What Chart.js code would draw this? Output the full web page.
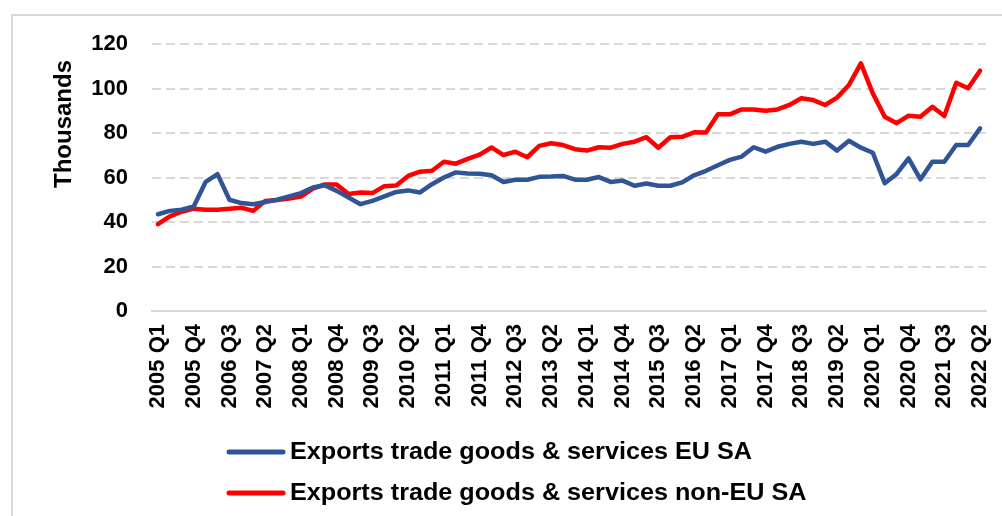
<!DOCTYPE html>
<html>
<head>
<meta charset="utf-8">
<script src="https://cdn.jsdelivr.net/npm/chart.js@4"></script>
<style>
  html, body { margin: 0; padding: 0; background: #fff; }
  #wrap { position: relative; width: 1002px; height: 516px; }
</style>
</head>
<body>
<div id="wrap"><canvas id="exportsChart" width="1002" height="516"></canvas></div>
<script>
// quarterly categories 2005 Q1 .. 2022 Q2
const quarters = [];
for (let y = 2005; y <= 2022; y++) {
    for (let q = 1; q <= 4; q++) {
        if (y === 2022 && q > 2) break;
        quarters.push(y + ' Q' + q);
    }
}

const yTicks = [0, 20, 40, 60, 80, 100, 120];

const euLabel = 'Exports trade goods & services EU SA';
const nonEuLabel = 'Exports trade goods & services non-EU SA';

const euValues = [
    43.5, 45, 45.5, 47, 58, 61.5, 50, 48.5, 48, 49,
    50, 51.5, 53, 55.5, 56.5, 54, 51, 48, 49.5, 51.5,
    53.5, 54.2, 53.3, 57, 60, 62.3, 61.8, 61.7, 61, 58,
    59, 59, 60.3, 60.4, 60.7, 59, 59, 60.2, 58, 58.6,
    56.3, 57.3, 56.3, 56.3, 57.8, 61, 63, 65.5, 67.9, 69.4,
    73.6, 71.6, 73.8, 75.1, 76.1, 75.1, 76.1, 72.1, 76.5, 73.4,
    71.1, 57.4, 61.6, 68.6, 59.2, 67.1, 67.1, 74.6, 74.6, 82.1
];

const nonEuValues = [
    39, 42.5, 44.6, 46, 45.5, 45.5, 46, 46.4, 45, 49.4,
    49.9, 50.6, 51.4, 55, 56.9, 56.8, 52.6, 53.3, 53, 56.1,
    56.4, 60.7, 62.6, 63, 67.1, 66.2, 68.4, 70.3, 73.5, 70.1,
    71.6, 69.1, 74.2, 75.4, 74.6, 72.7, 72.1, 73.6, 73.4, 75.1,
    76.1, 78.1, 73.4, 78.1, 78.3, 80.3, 80.2, 88.4, 88.4, 90.6,
    90.6, 90, 90.6, 92.6, 95.6, 94.8, 92.6, 95.9, 101.6, 111.3,
    97.8, 87.3, 84.4, 87.8, 87.3, 91.8, 87.6, 102.6, 100.1, 108
];

const FONT = '"Liberation Sans", Arial, sans-serif';
const BLUE = '#2f5597';
const RED = '#ff0000';
const GRID = '#d9d9d9';

// frame, axis title and the two-row legend are drawn by hand
const decorations = {
    id: 'decorations',
    beforeDraw(chart) {
        const ctx = chart.ctx;
        ctx.save();
        ctx.strokeStyle = GRID;
        ctx.lineWidth = 2;
        ctx.strokeRect(12, 15, 1200, 800);
        ctx.restore();
    },
    afterDraw(chart) {
        const ctx = chart.ctx;
        ctx.save();
        ctx.fillStyle = '#000';
        ctx.font = 'bold 24px ' + FONT;
        ctx.textAlign = 'center';
        ctx.textBaseline = 'middle';
        ctx.translate(64, 124);
        ctx.rotate(-Math.PI / 2);
        ctx.fillText('Thousands', 0, 0);
        ctx.restore();

        const rows = [452, 493];
        chart.data.datasets.forEach((ds, i) => {
            const y = rows[i];
            ctx.save();
            ctx.strokeStyle = ds.borderColor;
            ctx.lineWidth = 5;
            ctx.lineCap = 'round';
            ctx.beginPath();
            ctx.moveTo(229, y);
            ctx.lineTo(283, y);
            ctx.stroke();
            ctx.fillStyle = '#000';
            ctx.font = 'bold 23px ' + FONT;
            ctx.textAlign = 'left';
            ctx.textBaseline = 'middle';
            ctx.translate(290, y + 1);
            ctx.scale(1.095, 1);
            ctx.fillText(ds.label, 0, 0);
            ctx.restore();
        });
    }
};

new Chart(document.getElementById('exportsChart'), {
    type: 'line',
    data: {
        labels: quarters,
        datasets: [
            {
                label: euLabel,
                data: euValues,
                borderColor: BLUE,
                backgroundColor: BLUE,
                borderWidth: 4.5,
                pointRadius: 0,
                tension: 0,
                borderJoinStyle: 'round',
                borderCapStyle: 'round',
            },
            {
                label: nonEuLabel,
                data: nonEuValues,
                borderColor: RED,
                backgroundColor: RED,
                borderWidth: 4.5,
                pointRadius: 0,
                tension: 0,
                borderJoinStyle: 'round',
                borderCapStyle: 'round',
            },
        ],
    },
    options: {
        responsive: false,
        animation: false,
        layout: { padding: { top: 44, right: 16, bottom: 0, left: 0 } },
        plugins: {
            legend: { display: false },
            tooltip: { enabled: false },
        },
        scales: {
            x: {
                offset: true,
                grid: { display: false, drawTicks: false },
                border: { display: true, color: GRID, width: 2 },
                afterFit(scale) {
                    scale.height = 205;
                    scale.paddingLeft = 0;
                    scale.paddingRight = 0;
                },
                ticks: {
                    autoSkip: false,
                    maxRotation: 90,
                    minRotation: 90,
                    padding: 13,
                    color: '#000',
                    font: { family: FONT, size: 22, weight: 'bold' },
                    callback(value, index) {
                        return index % 3 === 0 ? quarters[index] : null;
                    },
                },
            },
            y: {
                min: 0,
                max: 120,
                afterFit(scale) { scale.width = 152; },
                afterBuildTicks(scale) {
                    scale.ticks = yTicks.map(v => ({ value: v }));
                },
                border: { display: false, dash: [9, 5] },
                grid: {
                    color: (c) => c.tick && c.tick.value === 0 ? 'rgba(0,0,0,0)' : GRID,
                    lineWidth: 2,
                    drawTicks: false,
                },
                ticks: {
                    padding: 24,
                    color: '#000',
                    font: { family: FONT, size: 22, weight: 'bold' },
                },
            },
        },
    },
    plugins: [decorations],
});
</script>
</body>
</html>
